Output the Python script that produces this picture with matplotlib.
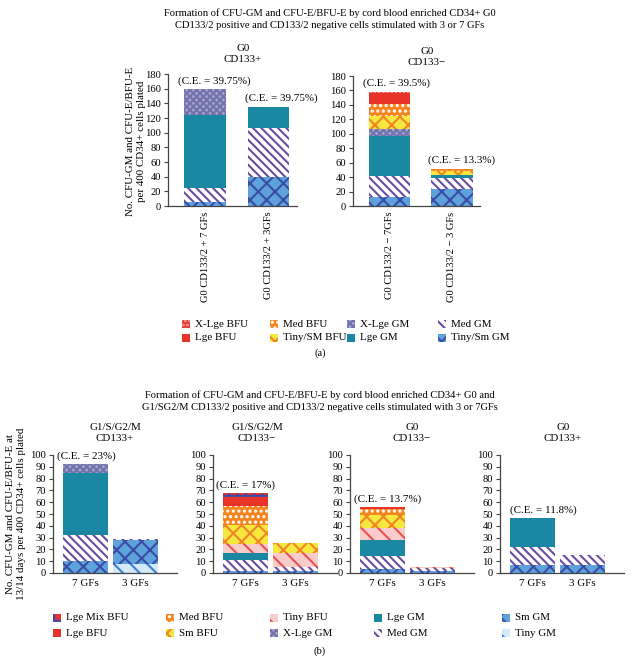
import matplotlib
matplotlib.use('Agg')
import matplotlib.pyplot as plt
import matplotlib.patches as mpatches

plt.rcParams['font.family'] = ['Liberation Serif', 'DejaVu Serif']
plt.rcParams['hatch.linewidth'] = 1.5

# ---------------- data ----------------
# Panel (a): bars = [CD133+ 7GFs, CD133+ 3GFs, CD133- 7GFs, CD133- 3GFs]
a_labels_pos = ['G0 CD133/2 + 7 GFs', 'G0 CD133/2 + 3GFs']
a_labels_neg = ['G0 CD133/2 \u2212 7GFs', 'G0 CD133/2 \u2212 3 GFs']
a_titles = ['G0\nCD133+', 'G0\nCD133\u2212']
a_ce = ['(C.E. = 39.75%)', '(C.E. = 39.75%)', '(C.E. = 39.5%)', '(C.E. = 13.3%)']
a_series = ['Tiny/Sm GM', 'Med GM', 'Lge GM', 'X-Lge GM',
            'Tiny/SM BFU', 'Med BFU', 'Lge BFU', 'X-Lge BFU']
a_tiny_sm_gm = [5, 39, 13, 24]
a_med_gm = [20, 68, 28, 15]
a_lge_gm = [99, 28, 56, 4]
a_xlge_gm = [36, 0, 10, 0]
a_tiny_sm_bfu = [0, 0, 17, 5]
a_med_bfu = [0, 0, 17, 3]
a_lge_bfu = [0, 0, 15, 0]
a_xlge_bfu = [0, 0, 2, 0]

# Panel (b): 4 groups x [7 GFs, 3 GFs]
b_titles = ['G1/S/G2/M\nCD133+', 'G1/S/G2/M\nCD133\u2212', 'G0\nCD133\u2212', 'G0\nCD133+']
b_xlabels = ['7 GFs', '3 GFs']
b_ce = ['(C.E. = 23%)', '(C.E. = 17%)', '(C.E. = 13.7%)', '(C.E. = 11.8%)']
b_series = ['Tiny GM', 'Sm GM', 'Med GM', 'Lge GM', 'X-Lge GM',
            'Tiny BFU', 'Sm BFU', 'Med BFU', 'Lge BFU', 'Lge Mix BFU']
b_tiny_gm = [0, 8, 0, 0, 0, 0, 0, 0]
b_sm_gm = [10, 20, 2, 2, 3, 2, 7, 7]
b_med_gm = [22, 1, 9, 3, 11, 2, 15, 8]
b_lge_gm = [53, 0, 6, 0, 14, 0, 25, 0]
b_xlge_gm = [7, 0, 0, 0, 0, 0, 0, 0]
b_tiny_bfu = [0, 0, 8, 12, 10, 1, 0, 0]
b_sm_bfu = [0, 0, 16, 8, 11, 0, 0, 0]
b_med_bfu = [0, 0, 16, 0, 5, 0, 0, 0]
b_lge_bfu = [0, 0, 7, 0, 2, 0, 0, 0]
b_lge_mix_bfu = [0, 0, 4, 0, 0, 0, 0, 0]

a_values = [a_tiny_sm_gm, a_med_gm, a_lge_gm, a_xlge_gm,
            a_tiny_sm_bfu, a_med_bfu, a_lge_bfu, a_xlge_bfu]
b_values = [b_tiny_gm, b_sm_gm, b_med_gm, b_lge_gm, b_xlge_gm,
            b_tiny_bfu, b_sm_bfu, b_med_bfu, b_lge_bfu, b_lge_mix_bfu]

# ---------------- styles ----------------
SMGM = ('#5EA2DC', 'xx', '#3A4CA6')
SMBFU = ('#F6E83C', 'xx', '#F0862A')
styles = {
    'Tiny/Sm GM': SMGM, 'Sm GM': SMGM,
    'Med GM': ('white', '\\\\\\\\', '#6A4CA0'),
    'Lge GM': ('#1A88A3', '', '#1A88A3'),
    'X-Lge GM': ('#A4A4CC', 'xxxxx', '#7272AC'),
    'Tiny/SM BFU': SMBFU, 'Sm BFU': SMBFU,
    'Med BFU': ('#F5841F', '...', 'white'),
    'Lge BFU': ('#E8332A', '', '#E8332A'),
    'X-Lge BFU': ('#E8332A', '....', '#F6A6A6'),
    'Lge Mix BFU': ('#E8332A', '++', '#3A4CA6'),
    'Tiny BFU': ('#F9CCCC', '\\\\', '#E8524F'),
    'Tiny GM': ('#D6E9F8', '\\\\', '#3C80D4'),
}

W, H = 635, 660
fig = plt.figure(figsize=(W / 100, H / 100), dpi=100)
FS = 7.6
SPINE = '#444444'


def ax_at(l, t, r, b):
    return fig.add_axes([l / W, 1 - b / H, (r - l) / W, (b - t) / H])


def style_ax(ax, ymax, step):
    for s in ['top', 'right']:
        ax.spines[s].set_visible(False)
    for s in ['left', 'bottom']:
        ax.spines[s].set_color(SPINE)
        ax.spines[s].set_linewidth(0.9)
    ax.set_ylim(0, ymax)
    ax.set_yticks(range(0, ymax + 1, step))
    ax.tick_params(axis='y', labelsize=FS, length=3, width=0.8, color=SPINE, pad=2)
    ax.tick_params(axis='x', length=0, labelsize=FS, pad=4)


def stack(ax, series, values, idx, width):
    xs = list(range(len(idx)))
    bottoms = [0.0] * len(idx)
    for name, vals in zip(series, values):
        fc, hatch, hc = styles[name]
        for k, i in enumerate(idx):
            v = vals[i]
            if v <= 0:
                continue
            ax.bar(xs[k], v, width=width, bottom=bottoms[k], color=fc,
                   hatch=hatch, edgecolor=hc, linewidth=0)
            bottoms[k] += v
    return bottoms


def fig_legend(entries, x, y, dy):
    for j, name in enumerate(entries):
        fc, hatch, hc = styles[name]
        yy = y + j * dy
        fig.add_artist(mpatches.Rectangle((x / W, 1 - (yy + 4) / H), 8 / W, 8 / H,
                                          facecolor=fc, hatch=hatch, edgecolor=hc,
                                          linewidth=0, transform=fig.transFigure))
        fig.text((x + 13) / W, 1 - yy / H, name, fontsize=FS + 0.3, va='center', ha='left')


# ---------------- Panel (a) ----------------
fig.text(330 / W, 1 - 19 / H,
         'Formation of CFU-GM and CFU-E/BFU-E by cord blood enriched CD34+ G0\n'
         'CD133/2 positive and CD133/2 negative cells stimulated with 3 or 7 GFs',
         ha='center', va='center', fontsize=FS, linespacing=1.4)

a_boxes = [(168, 74, 297, 206), (353, 76, 480, 206)]
a_title_pos = [(243, 54), (427, 57)]
a_tick_labels = [a_labels_pos, a_labels_neg]
a_ce_y = [[163, 140], [164, 57]]
for g in range(2):
    ax = ax_at(*a_boxes[g])
    style_ax(ax, 180, 20)
    tops = stack(ax, a_series, a_values, [2 * g, 2 * g + 1], 0.66)
    ax.set_xlim(-0.59, 1.45)
    ax.set_xticks([0, 1])
    ax.set_xticklabels(a_tick_labels[g], rotation=90, va='top', ha='center', fontsize=FS)
    for k in range(2):
        ax.text(k - 0.33 - (0.1 if k == 0 else 0.05), a_ce_y[g][k], a_ce[2 * g + k],
                fontsize=FS + 0.3, ha='left', va='bottom')
    tx, ty = a_title_pos[g]
    fig.text(tx / W, 1 - ty / H, a_titles[g], ha='center', va='center', fontsize=FS + 0.3,
             linespacing=1.25)

fig.text(136 / W, 1 - 141 / H, 'No. CFU-GM and CFU-E/BFU-E\nper 400 CD34+ cells plated',
         rotation=90, ha='center', va='center', fontsize=FS + 0.3, linespacing=1.15)

a_leg_cols = [['X-Lge BFU', 'Lge BFU'], ['Med BFU', 'Tiny/SM BFU'],
              ['X-Lge GM', 'Lge GM'], ['Med GM', 'Tiny/Sm GM']]
a_leg_x = [182, 270, 347, 438]
for cols, x in zip(a_leg_cols, a_leg_x):
    fig_legend(cols, x, 324, 14)
fig.text(320 / W, 1 - 353 / H, '(a)', ha='center', va='center', fontsize=FS)

# ---------------- Panel (b) ----------------
fig.text(320 / W, 1 - 401 / H,
         'Formation of CFU-GM and CFU-E/BFU-E by cord blood enriched CD34+ G0 and\n'
         'G1/SG2/M CD133/2 positive and CD133/2 negative cells stimulated with 3 or 7GFs',
         ha='center', va='center', fontsize=FS, linespacing=1.4)

b_lefts = [53, 213, 350, 500]
b_title_x = [115, 257, 412, 563]
b_ce_x = [-0.55, -0.57, -0.57, -0.45]
for g in range(4):
    l = b_lefts[g]
    ax = ax_at(l, 455, l + 124, 573)
    style_ax(ax, 100, 10)
    tops = stack(ax, b_series, b_values, [2 * g, 2 * g + 1], 0.9)
    ax.set_xlim(-0.64, 1.84)
    ax.set_xticks([0, 1])
    ax.set_xticklabels(b_xlabels, fontsize=FS + 0.3)
    ax.text(b_ce_x[g], tops[0] + 2.5, b_ce[g], fontsize=FS + 0.3, ha='left', va='bottom')
    fig.text(b_title_x[g] / W, 1 - 433 / H, b_titles[g], ha='center', va='center',
             fontsize=FS + 0.3, linespacing=1.25)

fig.text(16 / W, 1 - 514 / H,
         'No. CFU-GM and CFU-E/BFU-E at\n13/14 days per 400 CD34+ cells plated',
         rotation=90, ha='center', va='center', fontsize=FS + 0.3, linespacing=1.15)

b_leg_cols = [['Lge Mix BFU', 'Lge BFU'], ['Med BFU', 'Sm BFU'], ['Tiny BFU', 'X-Lge GM'],
              ['Lge GM', 'Med GM'], ['Sm GM', 'Tiny GM']]
b_leg_x = [53, 166, 270, 374, 502]
for cols, x in zip(b_leg_cols, b_leg_x):
    fig_legend(cols, x, 618, 15)
fig.text(320 / W, 1 - 651 / H, '(b)', ha='center', va='center', fontsize=FS)

fig.savefig('out.png', dpi=100)
